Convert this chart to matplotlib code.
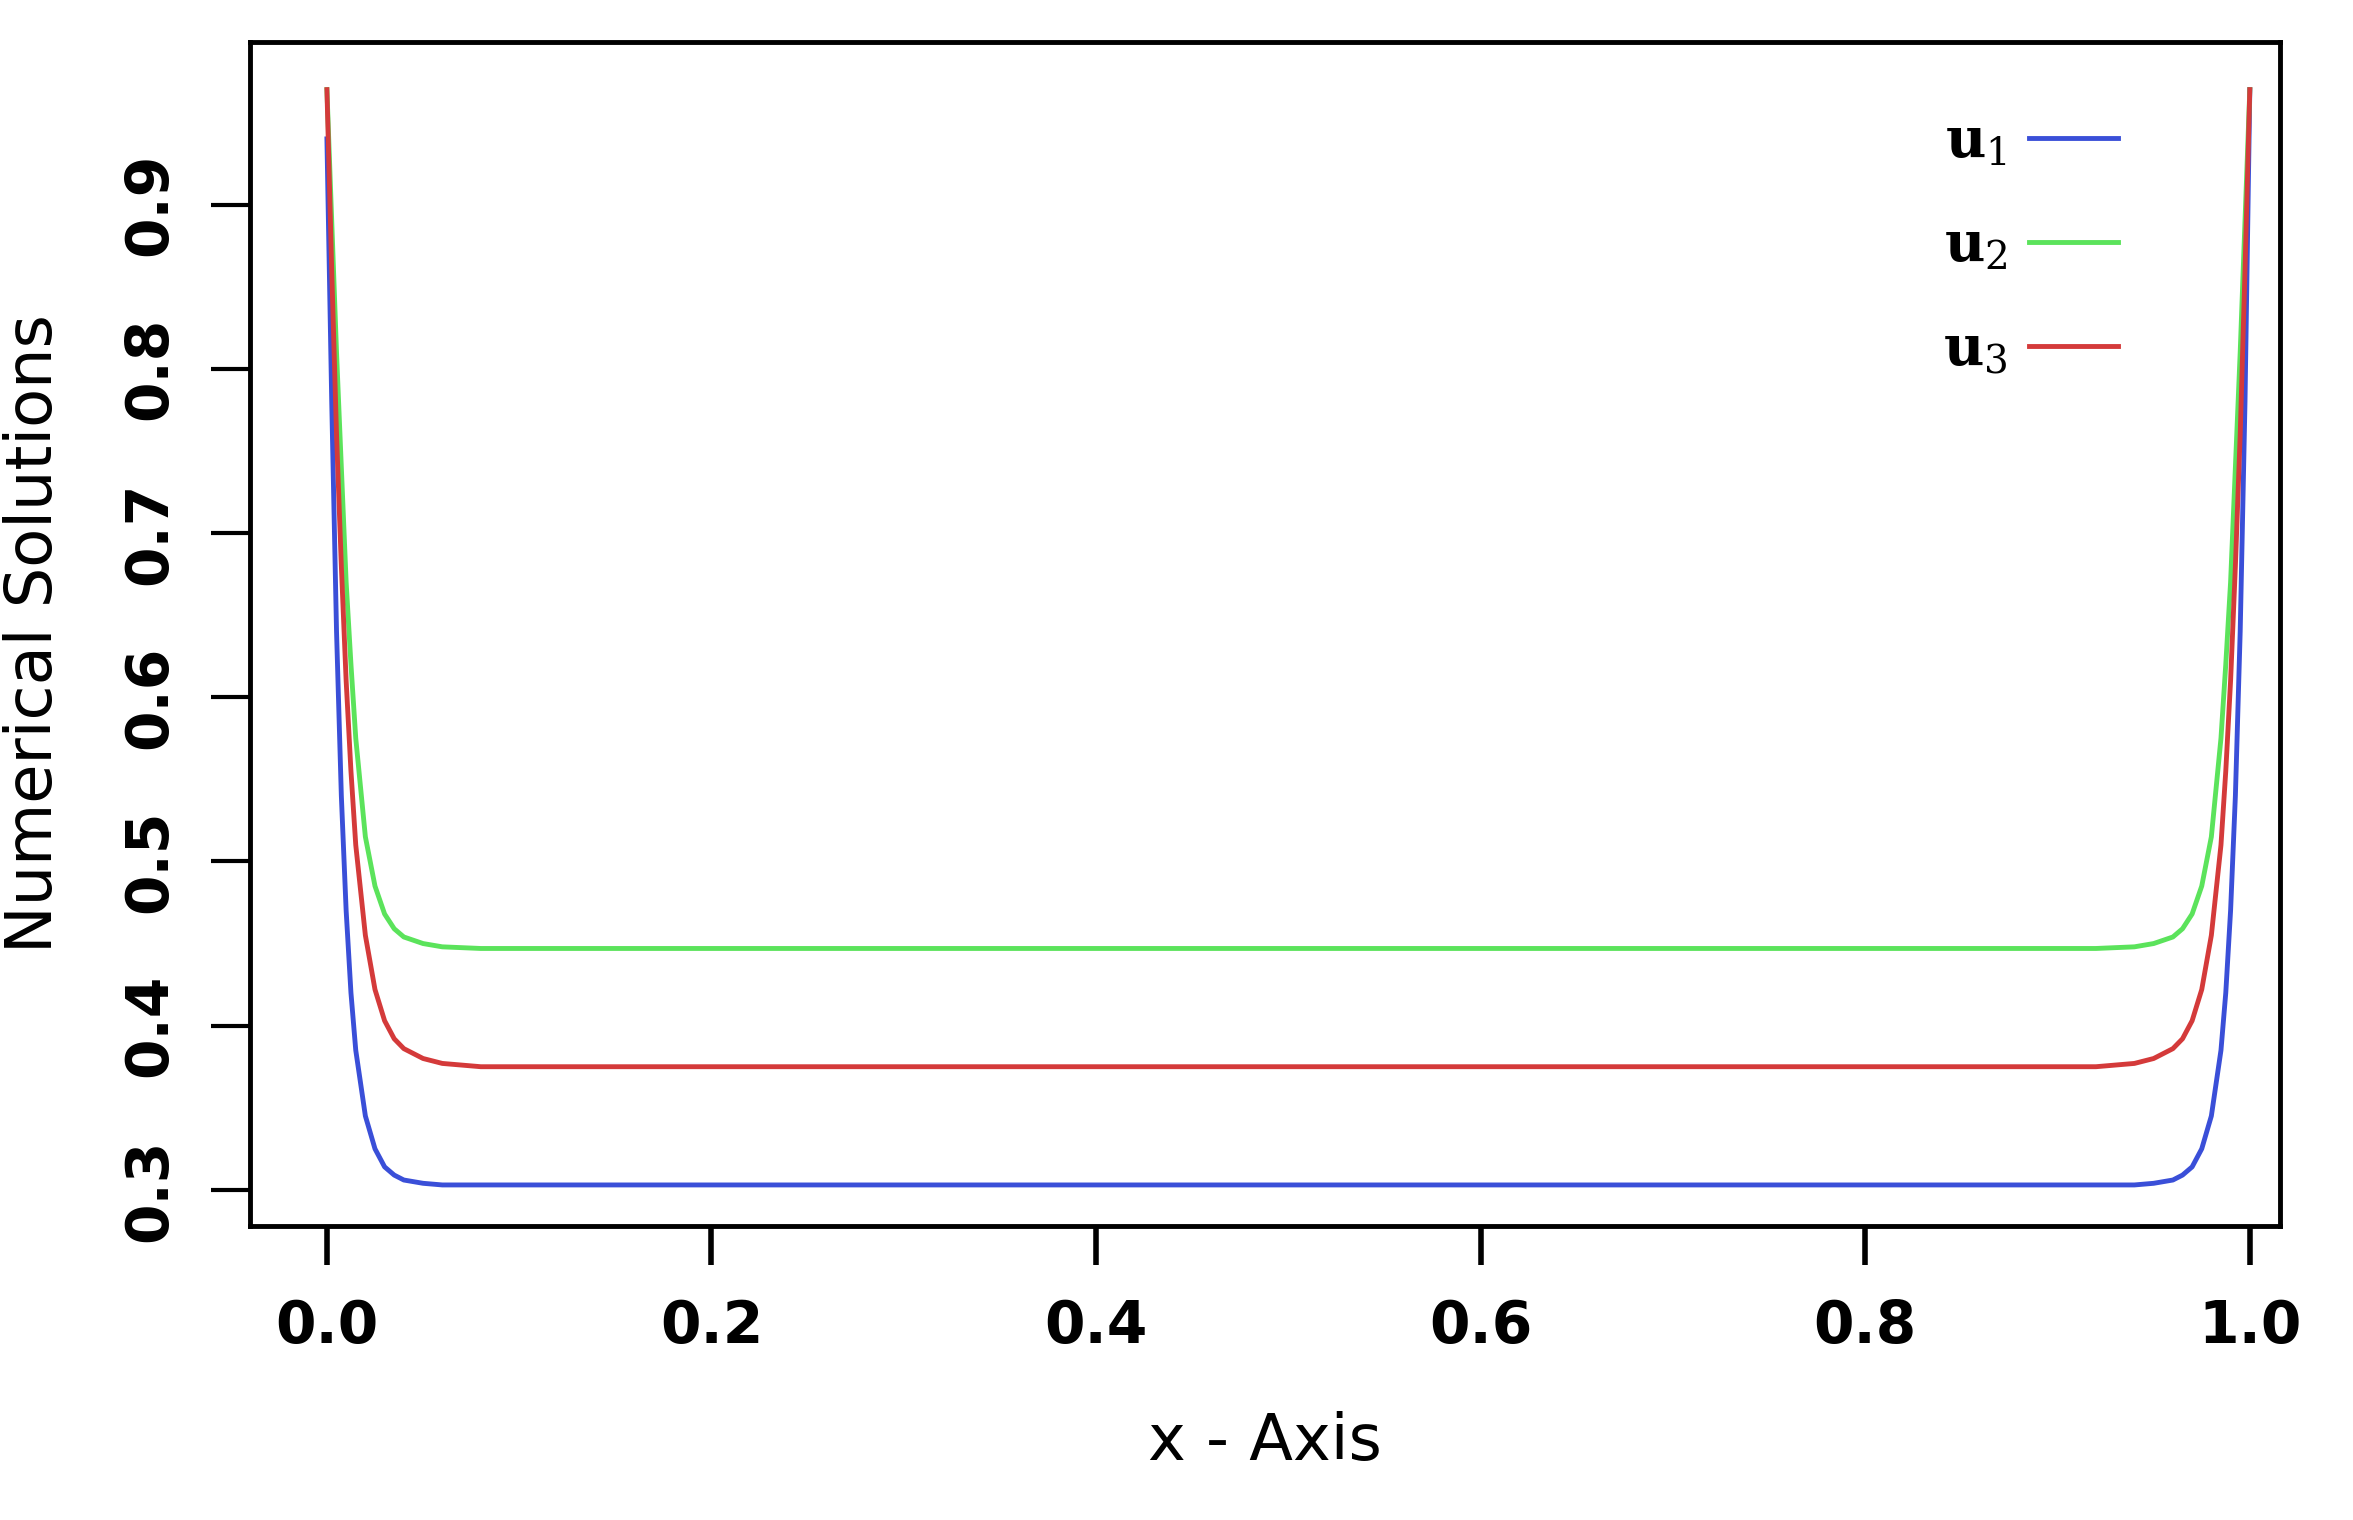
import matplotlib
matplotlib.use("Agg")
import matplotlib.pyplot as plt

x = [0, 0.0025, 0.005, 0.0075, 0.01, 0.0125, 0.015, 0.02, 0.025, 0.03, 0.035, 0.04, 0.05, 0.06, 0.08, 0.5,
     0.92, 0.94, 0.95, 0.96, 0.965, 0.97, 0.975, 0.98, 0.985, 0.9875, 0.99, 0.9925, 0.995, 0.9975, 1.0]
u1 = [0.94, 0.78, 0.64, 0.54, 0.47, 0.42, 0.385, 0.345, 0.325, 0.314, 0.309, 0.306, 0.304, 0.303, 0.303, 0.303,
      0.303, 0.303, 0.304, 0.306, 0.309, 0.314, 0.325, 0.345, 0.385, 0.42, 0.47, 0.54, 0.64, 0.78, 0.97]
u2 = [0.97, 0.89, 0.81, 0.74, 0.67, 0.62, 0.575, 0.515, 0.485, 0.468, 0.459, 0.454, 0.45, 0.448, 0.447, 0.447,
      0.447, 0.448, 0.45, 0.454, 0.459, 0.468, 0.485, 0.515, 0.575, 0.62, 0.67, 0.74, 0.81, 0.89, 0.97]
u3 = [0.97, 0.86, 0.76, 0.68, 0.61, 0.555, 0.51, 0.455, 0.422, 0.403, 0.392, 0.386, 0.38, 0.377, 0.375, 0.375,
      0.375, 0.377, 0.38, 0.386, 0.392, 0.403, 0.422, 0.455, 0.51, 0.555, 0.61, 0.68, 0.76, 0.86, 0.97]
labels = ["$\\mathbf{u}_1$", "$\\mathbf{u}_2$", "$\\mathbf{u}_3$"]
colors = ["#3a4fd8", "#5be35b", "#d43a3a"]
xticks = [0.0, 0.2, 0.4, 0.6, 0.8, 1.0]
yticks = [0.3, 0.4, 0.5, 0.6, 0.7, 0.8, 0.9]

plt.rcParams["mathtext.fontset"] = "dejavuserif"
fig = plt.figure(figsize=(23.53, 15.2), dpi=100)
ax = fig.add_axes([250/2353, 1 - 1226/1520, (2280-250)/2353, (1226-42)/1520])
for y, c, l in zip([u1, u2, u3], colors, labels):
    ax.plot(x, y, color=c, lw=3.5, label=l, solid_joinstyle="round")
ax.set_xlim(-0.04, 1.0157)
ax.set_ylim(0.278, 0.999)
ax.set_xticks(xticks)
ax.set_xticklabels([f"{t:.1f}" for t in xticks], fontsize=42, fontweight="semibold")
ax.set_yticks(yticks)
ax.set_yticklabels([f"{t:.1f}" for t in yticks], fontsize=42, fontweight="semibold",
                   rotation=90, va="center")
ax.tick_params(axis="x", length=28, width=4, pad=24)
ax.tick_params(axis="y", length=28, width=3, pad=24)
for s in ax.spines.values():
    s.set_linewidth(3.5)
ax.set_xlabel("x - Axis", fontsize=46, labelpad=40)
ax.set_ylabel("Numerical Solutions", fontsize=46, labelpad=40)
leg = ax.legend(loc="upper right", bbox_to_anchor=(0.945, 0.98), frameon=False,
                fontsize=40, markerfirst=False, handlelength=1.6, labelspacing=0.9,
                handletextpad=0.4)
fig.savefig("out.png", dpi=100, facecolor="white")
